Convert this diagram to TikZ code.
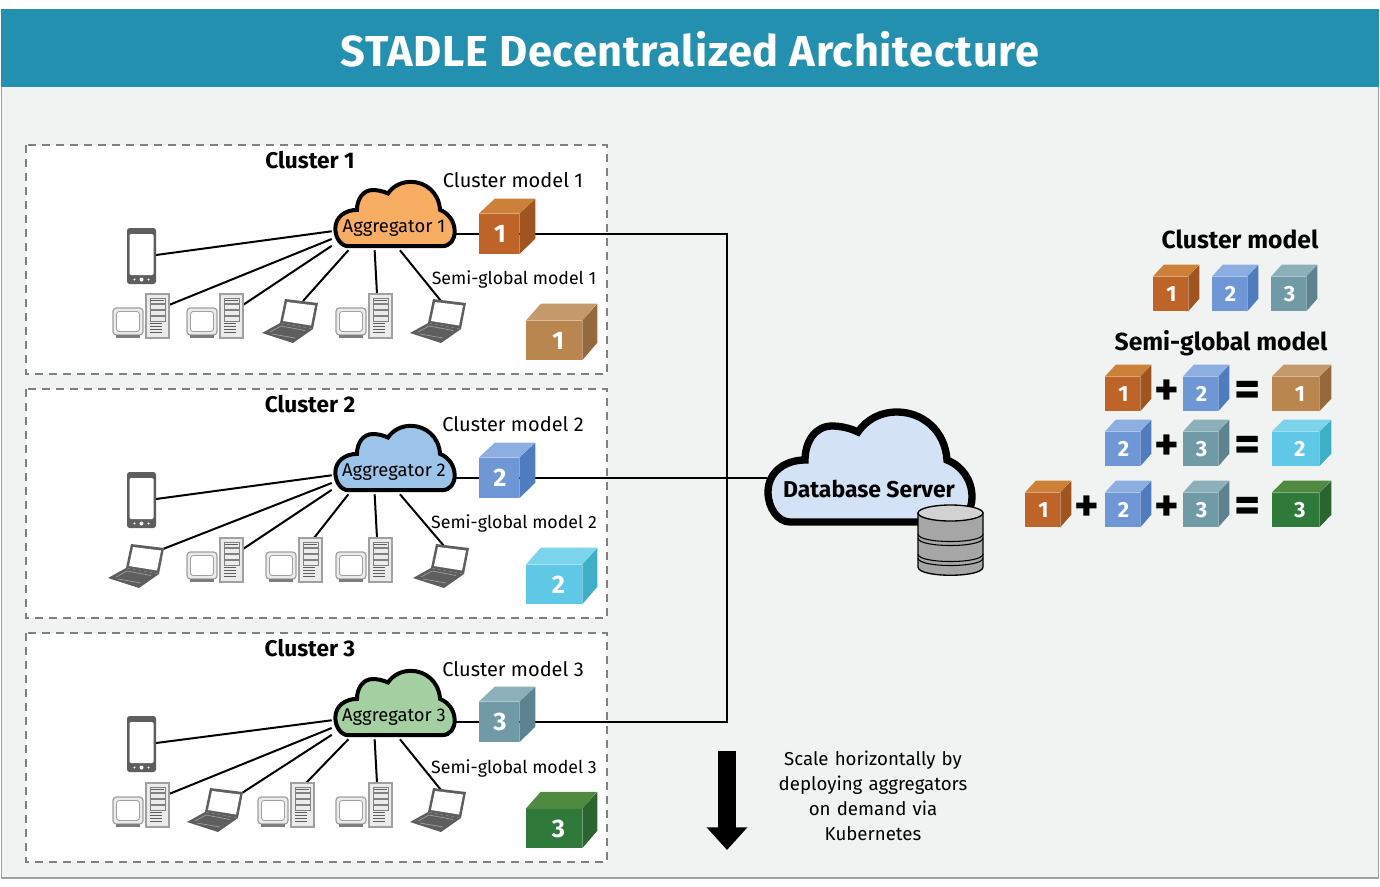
\documentclass[tikz,border=0pt]{standalone}
\usepackage{fontspec}
\setmainfont{Fira Sans}
\usetikzlibrary{arrows.meta}
\pgfdeclarelayer{bg}
\pgfsetlayers{bg,main}

% cube colours
\definecolor{cmonefront}{HTML}{BF6428}\definecolor{cmonetop}{HTML}{CC8038}\definecolor{cmoneside}{HTML}{A0541F}
\definecolor{cmtwofront}{HTML}{6F97D6}\definecolor{cmtwotop}{HTML}{8DAEE0}\definecolor{cmtwoside}{HTML}{4F7CBE}
\definecolor{cmthreefront}{HTML}{6F9AA6}\definecolor{cmthreetop}{HTML}{8CB0BA}\definecolor{cmthreeside}{HTML}{5C838F}
\definecolor{sgonefront}{HTML}{B98650}\definecolor{sgonetop}{HTML}{C49A6C}\definecolor{sgoneside}{HTML}{96693C}
\definecolor{sgtwofront}{HTML}{5FC8E6}\definecolor{sgtwotop}{HTML}{7BD3EC}\definecolor{sgtwoside}{HTML}{3FAFC8}
\definecolor{sgthreefront}{HTML}{2F7A3A}\definecolor{sgthreetop}{HTML}{4F8A40}\definecolor{sgthreeside}{HTML}{2A642E}
% other colours
\definecolor{headerblue}{HTML}{2290AE}
\definecolor{panelgrey}{HTML}{F1F3F3}
\definecolor{aggone}{HTML}{F8AE62}
\definecolor{aggtwo}{HTML}{9CC4E8}
\definecolor{aggthree}{HTML}{A4CFA0}
\definecolor{dbblue}{HTML}{D3E2F4}
\definecolor{pcline}{HTML}{A0A0A0}
\definecolor{pcfill}{HTML}{EBEBEB}
\definecolor{darkdev}{HTML}{5E5E5E}

\tikzset{
    wire/.style={black, line width=1.5pt},
    clusterbox/.style={draw=gray, fill=white, dash pattern=on 6pt off 4.5pt, line width=1pt},
    clusterlabel/.style={font=\fontsize{17}{20}\selectfont\bfseries},
    modellabel/.style={font=\fontsize{15}{18}\selectfont},
    semilabel/.style={font=\fontsize{13.3}{16}\selectfont},
    legendlabel/.style={font=\fontsize{18.5}{22}\selectfont\bfseries},
    aggtext/.style={font=\fontsize{13.8}{17}\selectfont, minimum width=93pt, minimum height=33pt, inner sep=0pt},
    cubeface/.style={text=white, inner sep=0pt, font=\fontsize{#1}{#1}\selectfont\bfseries},
    plussign/.style={font=\fontsize{35}{35}\selectfont\bfseries},
    eqsign/.style={font=\fontsize{38}{38}\selectfont\bfseries},
    % the cloud outline, centred on the origin
    cloudbody/.pic={
        \path[pic actions] (-80,55) -- (80,55)
            .. controls (95,55) and (102,43) .. (102,30)
            .. controls (102,13) and (92,-1) .. (77,-7)
            .. controls (75,-37) and (52,-55) .. (27,-55)
            .. controls (10,-55) and (-4,-47) .. (-12,-35)
            .. controls (-20,-39) and (-30,-41) .. (-38,-41)
            .. controls (-55,-41) and (-65,-25) .. (-65,-7)
            .. controls (-85,-7) and (-102,5) .. (-102,25)
            .. controls (-102,41) and (-92,55) .. (-80,55) -- cycle;
    },
    % phone, origin at its top left corner
    phone/.pic={
        \fill[darkdev, rounded corners=2pt] (0,0) rectangle (29,56);
        \fill[white, rounded corners=1pt] (2.5,6) rectangle (26.5,47);
        \fill[white] (14.5,51.5) circle [radius=2];
        \foreach \bx in {7.5,21.5} \fill[white] (\bx,51.5) circle [radius=1.2];
        \coordinate (-port) at (29,27);
    },
    % desktop computer, origin at the top left of its bounding box
    desktop/.pic={
        \draw[pcline, fill=pcfill, line width=.9pt, rounded corners=2.5pt] (0,14) rectangle (30,41);
        \draw[pcline, fill=white, line width=.6pt, rounded corners=2pt] (3.5,17.5) rectangle (26.5,37.5);
        \fill[darkdev!80] (3,41) rectangle (27,44);
        \draw[pcline, fill=pcfill, line width=.9pt] (33,0) rectangle (56,44);
        \foreach \by in {4,10,16,22} \draw[pcline!80!black, line width=.6pt] (37,\by) rectangle (52,\by+5);
        \fill[darkdev] (38,5.5) rectangle (51,7);
        \foreach \by in {29,32,35,38} \draw[darkdev, line width=.7pt] (37,\by) -- (49,\by);
        \coordinate (-port) at (56,11);
        \coordinate (-top) at (41,0);
        \coordinate (-topright) at (48,0);
    },
    % laptop, origin at the top left of its bounding box
    laptop/.pic={
        \fill[darkdev] (23,1) -- (56,5) -- (51,31) -- (18,25) -- cycle;
        \fill[white] (25,4) -- (53,7.5) -- (49,27.5) -- (21,23) -- cycle;
        \fill[darkdev] (0,35) -- (18,25) -- (51,31) -- (31,45) -- cycle;
        \draw[pcline, line width=.5pt] (8,34) -- (19,28) -- (43,32.5);
        \draw[pcline, line width=.5pt] (10,36) -- (33,40);
        \coordinate (-port) at (31,3);
        \coordinate (-mid) at (41,3);
        \coordinate (-corner) at (55,6);
    },
}

% name, palette, left, top, width, height, depth x, depth y, label
\newcommand{\modelcube}[9]{
    \node[cubeface=\cubesize, fill=#2front, minimum width=#5*0.75pt, minimum height=#6*0.75pt]
        (#1) at ({#3+#5/2},{#4+#6/2}) {\raisebox{-1.5pt}{\ifnum#5>45 \kern6.5pt\else\kern1.5pt\fi#9}};
    \fill[#2top] (#1.north west) -- ++(#7,-#8) -- ++(#5,0) -- (#1.north east) -- cycle;
    \fill[#2side] (#1.north east) -- ++(#7,-#8) -- ++(0,#6) -- (#1.south east) -- cycle;
}
\newcommand{\cubesize}{19}

\begin{document}
\begin{tikzpicture}[x=0.75pt, y=-0.75pt]
    \useasboundingbox (0,0) rectangle (1380,886);

    \begin{pgfonlayer}{bg}
        % frame and header
        \fill[white] (0,0) rectangle (1380,886);
        \draw[pcline, fill=panelgrey, line width=1.2pt] (1.5,60) rectangle (1378.5,878);
        \fill[headerblue] (1,9) rectangle (1379,87);
        % the dashed cluster boxes
        \foreach \i/\top in {1/145,2/389,3/633}
            \draw[clusterbox] (26,\top) rectangle (607,\top+229);
    \end{pgfonlayer}

    \node[text=white, font=\fontsize{32.5}{36}\selectfont\bfseries\addfontfeature{LetterSpace=1.6}] (title) at (690,49) {STADLE Decentralized Architecture};

    % cluster labels
    \node[clusterlabel] (clab1) at (310,160) {Cluster 1};
    \node[clusterlabel] (clab2) at (310,404) {Cluster 2};
    \node[clusterlabel] (clab3) at (310,648) {Cluster 3};
    \node[modellabel] (cmlab1) at (513,180) {Cluster model 1};
    \node[modellabel] (cmlab2) at (513,424) {Cluster model 2};
    \node[modellabel] (cmlab3) at (513,669) {Cluster model 3};
    \node[semilabel] (sglab1) at (514,279) {Semi-global model 1};
    \node[semilabel] (sglab2) at (514,523) {Semi-global model 2};
    \node[semilabel] (sglab3) at (514,768) {Semi-global model 3};

    % clouds
    \pic[fill=aggone, draw=black, line width=3pt, scale=0.585] at (395,214) {cloudbody};
    \pic[fill=aggtwo, draw=black, line width=3pt, scale=0.585] at (395,458) {cloudbody};
    \pic[fill=aggthree, draw=black, line width=3pt, scale=0.585] at (395,703) {cloudbody};
    \pic[fill=dbblue, draw=black, line width=5.5pt] at (870,467) {cloudbody};
    \node[aggtext] (agg1) at (394,228) {Aggregator 1};
    \node[aggtext] (agg2) at (394,472) {Aggregator 2};
    \node[aggtext] (agg3) at (394,717) {Aggregator 3};
    \node[font=\fontsize{17.2}{20}\selectfont\bfseries, inner sep=0pt, minimum width=153pt] (dbserver) at (869,489) {Database Server};

    % devices of cluster 1
    \pic (ph1) at (127,228) {phone};
    \pic (a1) at (113,294) {desktop};
    \pic (a2) at (187,294) {desktop};
    \pic (a3) at (262,298) {laptop};
    \pic (a4) at (336,294) {desktop};
    \pic (a5) at (410,298) {laptop};
    % devices of cluster 2
    \pic (ph2) at (127,472) {phone};
    \pic (b1) at (108,543) {laptop};
    \pic (b2) at (187,538) {desktop};
    \pic (b3) at (266,538) {desktop};
    \pic (b4) at (336,538) {desktop};
    \pic (b5) at (413,543) {laptop};
    % devices of cluster 3
    \pic (ph3) at (127,716) {phone};
    \pic (c1) at (113,783) {desktop};
    \pic (c2) at (187,787) {laptop};
    \pic (c3) at (258,783) {desktop};
    \pic (c4) at (336,783) {desktop};
    \pic (c5) at (410,787) {laptop};

    % models of the clusters
    \modelcube{cm1}{cmone}{479}{214}{40}{40}{16}{15}{1}
    \modelcube{cm2}{cmtwo}{479}{458}{40}{40}{16}{15}{2}
    \modelcube{cm3}{cmthree}{479}{702}{40}{40}{16}{15}{3}
    \modelcube{sg1}{sgone}{526}{321}{56}{39}{15}{17}{1}
    \modelcube{sg2}{sgtwo}{526}{565}{56}{39}{15}{17}{2}
    \modelcube{sg3}{sgthree}{526}{809}{56}{39}{15}{17}{3}

    % the legend on the right
    \renewcommand{\cubesize}{16.5}
    \node[legendlabel] (legcm) at (1240,239) {Cluster model};
    \node[legendlabel] (legsg) at (1221,343) {Semi-global model};
    \modelcube{lc1}{cmone}{1153}{277}{35}{34}{11}{12}{1}
    \modelcube{lc2}{cmtwo}{1212}{277}{35}{34}{11}{12}{2}
    \modelcube{lc3}{cmthree}{1271}{277}{35}{34}{11}{12}{3}
    % first sum
    \modelcube{ra1}{cmone}{1105}{377}{35}{34}{11}{12}{1}
    \node[plussign] (raplus) at (1167,393) {+};
    \modelcube{ra2}{cmtwo}{1183}{377}{35}{34}{11}{12}{2}
    \node[eqsign] (raeq) at (1248,394) {=};
    \modelcube{ra3}{sgone}{1272}{377}{47}{34}{12}{12}{1}
    % second sum
    \modelcube{rb1}{cmtwo}{1105}{432}{35}{34}{11}{12}{2}
    \node[plussign] (rbplus) at (1167,448) {+};
    \modelcube{rb2}{cmthree}{1183}{432}{35}{34}{11}{12}{3}
    \node[eqsign] (rbeq) at (1248,449) {=};
    \modelcube{rb3}{sgtwo}{1272}{432}{47}{34}{12}{12}{2}
    % third sum
    \modelcube{rc1}{cmone}{1025}{493}{35}{34}{11}{12}{1}
    \node[plussign] (rcplusa) at (1087,509) {+};
    \modelcube{rc2}{cmtwo}{1105}{493}{35}{34}{11}{12}{2}
    \node[plussign] (rcplusb) at (1167,509) {+};
    \modelcube{rc3}{cmthree}{1183}{493}{35}{34}{11}{12}{3}
    \node[eqsign] (rceq) at (1248,510) {=};
    \modelcube{rc4}{sgthree}{1272}{493}{47}{34}{12}{12}{3}

    % database disks
    \draw[black, fill=gray!70, line width=1pt] (918,513) -- (918,567)
        .. controls (918,578) and (983,578) .. (983,567) -- (983,513) -- cycle;
    \foreach \dy in {534,538,554,558}
        \draw[black, line width=.8pt] (918,\dy) .. controls (918,\dy+10) and (983,\dy+10) .. (983,\dy);
    \draw[black, fill=gray!35, line width=1pt] (950.5,513) ellipse [x radius=32.5, y radius=8];

    % the scale note
    \coordinate (downtop) at (727,751);
    \coordinate (downtip) at (727,850);
    \draw[-{Triangle[width=29.5pt,length=17pt]}, line width=13.5pt] (downtop) -- (downtip);
    \node[align=center, text width=150pt, font=\fontsize{14}{18.75}\selectfont] (note) at (873,796)
        {Scale horizontally by\\deploying aggregators\\on demand via\\Kubernetes};

    % connectors, below everything else
    \begin{pgfonlayer}{bg}
        % cluster 1
        \draw[wire] (ph1-port) -- (agg1.183);
        \draw[wire] (a1-port) -- (agg1.190);
        \draw[wire] (a2-port) -- (agg1.196);
        \draw[wire] (a3-mid) -- (agg1.206);
        \draw[wire] (a4-top) -- (agg1.229);
        \draw[wire] (a5-port) -- (agg1.285);
        \draw[wire] (agg1.east |- cm1.west) -- (cm1.west);
        % cluster 2
        \draw[wire] (ph2-port) -- (agg2.183);
        \draw[wire] (b1-corner) -- (agg2.190);
        \draw[wire] (b2-port) -- (agg2.196);
        \draw[wire] (b3-topright) -- (agg2.206);
        \draw[wire] (b4-top) -- (agg2.229);
        \draw[wire] (b5-port) -- (agg2.285);
        \draw[wire] (agg2.east |- cm2.west) -- (cm2.west);
        % cluster 3
        \draw[wire] (ph3-port) -- (agg3.183);
        \draw[wire] (c1-port) -- (agg3.190);
        \draw[wire] (c2-corner) -- (agg3.196);
        \draw[wire] (c3-topright) -- (agg3.206);
        \draw[wire] (c4-top) -- (agg3.229);
        \draw[wire] (c5-port) -- (agg3.285);
        \draw[wire] (agg3.east |- cm3.west) -- (cm3.west);
        % to the database server
        \draw[wire] (cm2.east) -- (dbserver.west |- cm2.east);
        \draw[wire] (cm1.east) -| (727,478);
        \draw[wire] (cm3.east) -| (727,478);
    \end{pgfonlayer}
\end{tikzpicture}
\end{document}
